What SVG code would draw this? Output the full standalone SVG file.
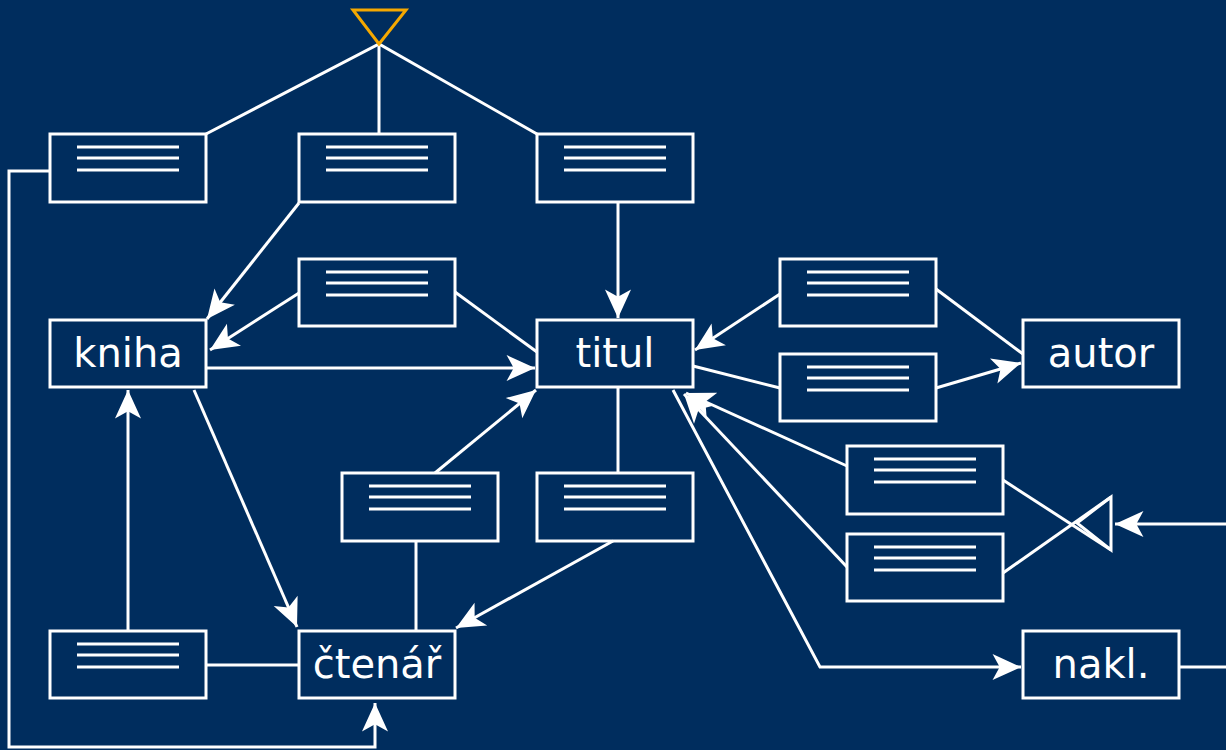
<svg xmlns="http://www.w3.org/2000/svg" width="1226" height="750" viewBox="0 0 1226 750">
<defs>
<style>
.bx{fill:none;stroke:#fff;stroke-width:3}
.ln{stroke:#fff;stroke-width:2.8}
.c{fill:none;stroke:#fff;stroke-width:3}
.a{marker-end:url(#ah)}
.t{font-family:"DejaVu Sans",sans-serif;font-size:40px;fill:#fff;text-anchor:middle}
</style>
<marker id="ah" markerUnits="userSpaceOnUse" markerWidth="32" markerHeight="32" viewBox="-1 -13 27 26" refX="24" refY="0" orient="auto">
<path d="M0,-11 L24,0 L0,11 L6,0 z" fill="#fff"/>
</marker>
<g id="lines3">
<line class="ln" x1="27" y1="13" x2="129" y2="13"/>
<line class="ln" x1="27" y1="24" x2="129" y2="24"/>
<line class="ln" x1="27" y1="36" x2="129" y2="36"/>
</g>
</defs>
<rect width="1226" height="750" fill="#002d5e"/>
<g id="connectors">
<polyline class="c" points="206,134 379,44 537,134"/>
<line class="c" x1="379" y1="44" x2="379" y2="134"/>
<polyline class="c a" points="50,171 9,171 9,747 375,747 375,703"/>
<line class="c a" x1="299" y1="203" x2="207" y2="319"/>
<line class="c a" x1="299" y1="293" x2="210" y2="350"/>
<line class="c" x1="455" y1="292" x2="537" y2="352"/>
<line class="c a" x1="206" y1="368" x2="535" y2="368"/>
<line class="c a" x1="618" y1="202" x2="618" y2="318"/>
<line class="c a" x1="194" y1="390" x2="297" y2="627"/>
<line class="c a" x1="128" y1="631" x2="128" y2="390"/>
<line class="c" x1="206" y1="665" x2="299" y2="665"/>
<line class="c a" x1="435" y1="473" x2="536" y2="390"/>
<line class="c" x1="416" y1="541" x2="416" y2="631"/>
<line class="c" x1="618" y1="387" x2="618" y2="473"/>
<line class="c a" x1="613" y1="541" x2="456" y2="628"/>
<line class="c a" x1="780" y1="294" x2="695" y2="350"/>
<line class="c" x1="936" y1="289" x2="1023" y2="354"/>
<line class="c" x1="693" y1="366" x2="780" y2="388"/>
<line class="c a" x1="936" y1="388" x2="1021" y2="363"/>
<line class="c a" x1="847" y1="466" x2="686" y2="393"/>
<line class="c a" x1="847" y1="567" x2="684" y2="394"/>
<line class="c" x1="1003" y1="480" x2="1111" y2="550"/>
<line class="c" x1="1003" y1="573" x2="1111" y2="497"/>
<line class="c a" x1="1226" y1="524" x2="1115" y2="524"/>
<polyline class="c a" points="673,390 820,667 1021,667"/>
<line class="c" x1="1179" y1="667" x2="1226" y2="667"/>
<polygon points="353,10 406,10 379,44" fill="none" stroke="#f5a800" stroke-width="3"/>
<polygon points="1077,523 1111,497 1111,550" fill="none" stroke="#fff" stroke-width="3"/>
</g>
<g id="noteA"><rect class="bx" x="50" y="134" width="156" height="68"/><use href="#lines3" x="50" y="134"/></g>
<g id="noteB"><rect class="bx" x="299" y="134" width="156" height="68"/><use href="#lines3" x="299" y="134"/></g>
<g id="noteC"><rect class="bx" x="537" y="134" width="156" height="68"/><use href="#lines3" x="537" y="134"/></g>
<g id="noteD"><rect class="bx" x="299" y="259" width="156" height="67"/><use href="#lines3" x="299" y="259"/></g>
<g id="noteE"><rect class="bx" x="780" y="259" width="156" height="67"/><use href="#lines3" x="780" y="259"/></g>
<g id="noteF"><rect class="bx" x="780" y="354" width="156" height="67"/><use href="#lines3" x="780" y="354"/></g>
<g id="noteG"><rect class="bx" x="847" y="446" width="156" height="68"/><use href="#lines3" x="847" y="446"/></g>
<g id="noteH"><rect class="bx" x="847" y="534" width="156" height="67"/><use href="#lines3" x="847" y="534"/></g>
<g id="noteI"><rect class="bx" x="342" y="473" width="156" height="68"/><use href="#lines3" x="342" y="473"/></g>
<g id="noteJ"><rect class="bx" x="537" y="473" width="156" height="68"/><use href="#lines3" x="537" y="473"/></g>
<g id="noteK"><rect class="bx" x="50" y="631" width="156" height="67"/><use href="#lines3" x="50" y="631"/></g>
<g id="kniha"><rect class="bx" x="50" y="320" width="156" height="67"/><text class="t" x="128" y="367">kniha</text></g>
<g id="titul"><rect class="bx" x="537" y="320" width="156" height="67"/><text class="t" x="615" y="367">titul</text></g>
<g id="autor"><rect class="bx" x="1023" y="320" width="156" height="67"/><text class="t" x="1101" y="367">autor</text></g>
<g id="ctenar"><rect class="bx" x="299" y="631" width="156" height="67"/><text class="t" x="377" y="678">čtenář</text></g>
<g id="nakl"><rect class="bx" x="1023" y="631" width="156" height="67"/><text class="t" x="1101" y="678">nakl.</text></g>
</svg>
